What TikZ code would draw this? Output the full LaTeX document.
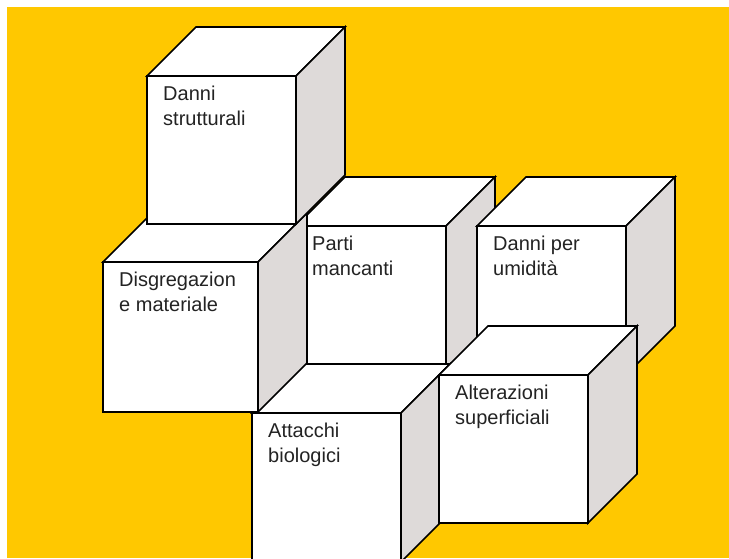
\documentclass[tikz,border=0pt]{standalone}
\usepackage{fontspec}
\setmainfont{Liberation Sans}
\definecolor{bgyellow}{RGB}{255,200,0}
\definecolor{sidegrey}{RGB}{222,218,217}
\definecolor{txtgrey}{RGB}{35,35,35}
\tikzset{
  edge/.style={draw=black, line width=1.6pt, line join=miter},
  topface/.style={edge, fill=white},
  sideface/.style={edge, fill=sidegrey},
  frontface/.style={edge, fill=white, rectangle, inner sep=0pt, outer sep=0pt, anchor=north west},
  lbl/.style={inner sep=0pt, anchor=base west, text=txtgrey, font=\fontsize{20}{24.5}\selectfont}
}
\newcommand\mklbl[2]{\vtop{\hbox{#1}\hbox{#2}}}
% name, x, y, w, h, line1, line2
\newcommand\mycube[7]{%
  \filldraw[topface] (#2,#3) -- ++(49,-49) -- ++(#4,0) -- ++(-49,49) -- cycle;
  \filldraw[sideface] (#2+#4,#3) -- ++(49,-49) -- ++(0,#5) -- ++(-49,49) -- cycle;
  \node[frontface, minimum width=#4pt, minimum height=#5pt] (#1) at (#2,#3) {};
  \node[lbl] (#1-text) at ([shift={(16,24.5)}]#1.north west) {\mklbl{#6}{#7}};
}
\begin{document}
\begin{tikzpicture}[x=1pt, y=-1pt]
  \useasboundingbox (0,0) rectangle (729,558);
  \clip (0,0) rectangle (729,558);
  \fill[white] (0,0) rectangle (729,558);
  \fill[bgyellow] (7,7) rectangle (729,558);
  \mycube{parti}{296}{226}{150}{150}{Parti}{mancanti}
  \mycube{umid}{477}{226}{149}{149}{Danni per}{umidità}
  \mycube{attac}{252}{413}{149}{149}{Attacchi}{biologici}
  \mycube{alter}{439}{375}{149}{148}{Alterazioni}{superficiali}
  \mycube{disg}{103}{262}{155}{150}{Disgregazion}{e materiale}
  \mycube{strut}{147}{76}{149}{148}{Danni}{strutturali}
\end{tikzpicture}
\end{document}
